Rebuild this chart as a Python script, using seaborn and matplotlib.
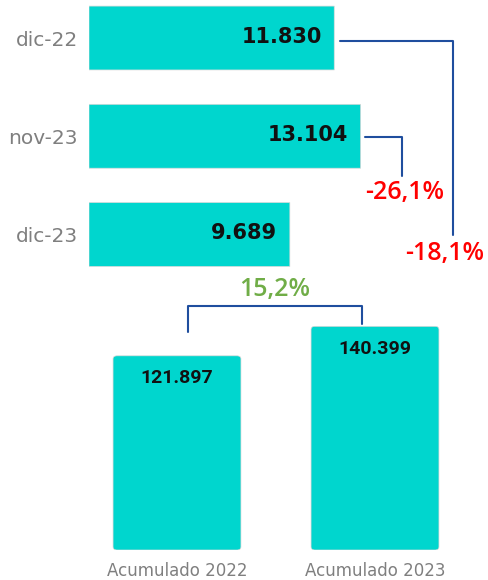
import matplotlib
matplotlib.use("Agg")
import matplotlib.pyplot as plt
import seaborn as sns
import pandas as pd
from matplotlib.patches import FancyBboxPatch

# ---- data ----
month_labels = ["dic-22", "nov-23", "dic-23"]
month_values = [11830, 13104, 9689]
month_text = ["11.830", "13.104", "9.689"]

acc_labels = ["Acumulado 2022", "Acumulado 2023"]
acc_values = [121897, 140399]
acc_text = ["121.897", "140.399"]

pct_dic = "-18,1%"
pct_nov = "-26,1%"
pct_acc = "15,2%"

sns.set_theme(style="white")
plt.rcParams["font.family"] = ["DejaVu Sans"]

BAR = "#00D6CE"
LINE = "#1F4E9E"
RED = "#FF0000"
GREEN = "#70AD47"
GRAY = "#7F7F7F"
PCT_FONT = ["Open Sans", "DejaVu Sans"]

W, H = 488, 580
fig = plt.figure(figsize=(W / 100, H / 100), dpi=100)


def box(x0, y0, x1, y1):
    # pixel box (top-left origin) -> figure fraction rect
    return [x0 / W, 1 - y1 / H, (x1 - x0) / W, (y1 - y0) / H]


def round_bars(ax, r_x, r_y):
    for p in list(ax.patches):
        x, y = p.get_xy()
        w, h = p.get_width(), p.get_height()
        fb = FancyBboxPatch((x, y), w, h,
                            boxstyle=f"round,pad=0,rounding_size={min(r_x, r_y)}",
                            mutation_aspect=r_y / r_x if r_x else 1,
                            fc=BAR, ec="#D8D8D8", lw=0.5, zorder=2)
        p.set_visible(False)
        ax.add_patch(fb)


# ---- top: horizontal bars ----
scale_top = 0.02073  # px per unit
axt = fig.add_axes(box(89, 0, 488, 280))
dft = pd.DataFrame({"mes": month_labels, "valor": month_values})
sns.barplot(data=dft, y="mes", x="valor", color=BAR, width=0.65,
            saturation=1, ax=axt, orient="h")
axt.set_xlim(0, 399 / scale_top)
axt.set_ylim(2.463, -0.387)
for s in axt.spines.values():
    s.set_visible(False)
axt.set_xticks([])
axt.set_xlabel("")
axt.set_ylabel("")
axt.tick_params(axis="y", length=0, pad=8, labelsize=14.5, labelcolor=GRAY)
round_bars(axt, 150, 0.04)
for i, (v, t) in enumerate(zip(month_values, month_text)):
    axt.annotate(t, (v, i), xytext=(-9, 1), textcoords="offset points",
                 ha="right", va="center", fontsize=15, fontweight="bold",
                 color="#111111", zorder=3, family=["DejaVu Sans"])

# brackets (in axes data coords)
u = 1 / scale_top  # data units per pixel horizontally
yp = 1 / 98.25     # category units per pixel
# dic-22 -> dic-23
x0 = month_values[0] + 6 * u
xr = (453 - 89) * u
axt.plot([x0, xr, xr], [0 + 3 * yp, 0 + 3 * yp, 2.0], color=LINE, lw=1.5,
         clip_on=False, zorder=3)
axt.text(xr - 8 * u, 2.0 + 19 * yp, pct_dic, ha="center", va="center",
         fontsize=18, fontweight="semibold", color=RED, family=PCT_FONT)
# nov-23 -> dic-23
x0 = month_values[1] + 4 * u
xr2 = (402 - 89) * u
axt.plot([x0, xr2, xr2], [1 + 0.5 * yp, 1 + 0.5 * yp, 1 + 40 * yp], color=LINE,
         lw=1.5, clip_on=False, zorder=3)
axt.text(xr2 + 3 * u, 1 + 56 * yp, pct_nov, ha="center", va="center",
         fontsize=18, fontweight="semibold", color=RED, family=PCT_FONT)

# ---- bottom: vertical bars ----
scale_bot = 0.001593
axb = fig.add_axes(box(78, 290, 474, 550))
dfb = pd.DataFrame({"periodo": acc_labels, "valor": acc_values})
sns.barplot(data=dfb, x="periodo", y="valor", color=BAR, width=0.646,
            saturation=1, ax=axb)
axb.set_xlim(-0.5, 1.5)
axb.set_ylim(0, 260 / scale_bot)
for s in axb.spines.values():
    s.set_visible(False)
axb.set_yticks([])
axb.set_xlabel("")
axb.set_ylabel("")
axb.tick_params(axis="x", length=0, pad=9, labelsize=12, labelcolor=GRAY)
round_bars(axb, 0.02, 2000)
for i, (v, t) in enumerate(zip(acc_values, acc_text)):
    axb.annotate(t, (i, v), xytext=(0, -16), textcoords="offset points",
                 ha="center", va="center", fontsize=14, fontweight="bold",
                 color="#111111", zorder=3, family=["Roboto", "DejaVu Sans"])

vy = 1 / scale_bot
xp = 1 / 198
bx0 = 0 + 11 * xp
bx1 = 1 - 13 * xp
ytop = acc_values[1] + 20 * vy
axb.plot([bx0, bx0, bx1, bx1], [acc_values[0] + 24 * vy, ytop, ytop,
                                 acc_values[1] + 2 * vy],
         color=LINE, lw=1.5, clip_on=False, zorder=3)
axb.text((bx0 + bx1) / 2, ytop + 17 * vy, pct_acc, ha="center", va="center",
         fontsize=18, fontweight="semibold", color=GREEN, family=PCT_FONT)

fig.savefig("out.png", dpi=100)
